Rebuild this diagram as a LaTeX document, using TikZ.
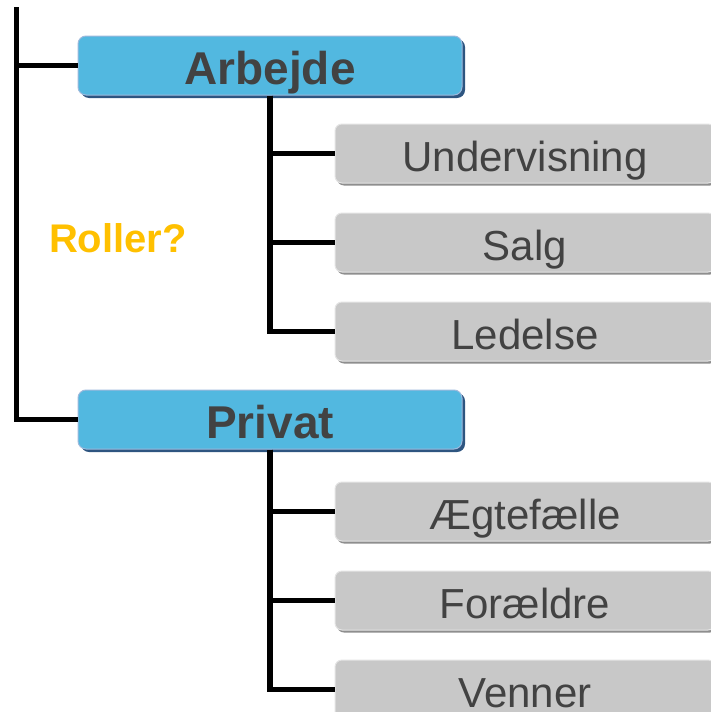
\documentclass[tikz,border=0pt]{standalone}
\usepackage{fontspec}
\setmainfont{Liberation Sans}
\usetikzlibrary{positioning,shadows}

\definecolor{rolleblaa}{HTML}{52B8E0}
\definecolor{rolleblaamoerk}{HTML}{2E5580}
\definecolor{rolleblaalys}{HTML}{9DB9DC}
\definecolor{rollegraa}{HTML}{C8C8C8}
\definecolor{rollegraamoerk}{HTML}{8E8E8E}
\definecolor{rollegraalys}{HTML}{E4E4E4}
\definecolor{rolletekst}{HTML}{424242}
\definecolor{rolleguld}{HTML}{FFC000}

\tikzset{
	hoved/.style = {rectangle, rounded corners=8pt, fill=rolleblaa, draw=rolleblaalys, line width=1pt,
		general shadow={fill=rolleblaamoerk, shadow xshift=3pt, shadow yshift=-3pt},
		minimum width=384pt, minimum height=59pt, inner sep=0pt,
		text height=43pt, text depth=5pt,
		text=rolletekst, font=\bfseries\fontsize{46}{50}\selectfont},
	under/.style = {rectangle, rounded corners=7pt, fill=rollegraa, draw=rollegraalys, line width=1pt,
		general shadow={fill=rollegraamoerk, shadow xshift=2pt, shadow yshift=-2.5pt},
		minimum width=380pt, minimum height=59pt, inner sep=0pt,
		text height=40pt, text depth=4pt,
		text=rolletekst, font=\fontsize{42}{48}\selectfont},
	gren/.style = {draw=black, line width=5.5pt},
}

\begin{document}
\begin{tikzpicture}[x=1pt, y=-1pt]
	\useasboundingbox (0,0) rectangle (710,712);
	
	\node [hoved] (arb) at (270,65.5) {Arbejde};
	\node [under] (und) at (525,153.5) {Undervisning};
	\node [under, below = 29pt of und] (salg) {Salg};
	\node [under, below = 29pt of salg] (led) {Ledelse};
	
	\node [hoved] (priv) at (270,419.5) {Privat};
	\node [under] (aegt) at (525,511.5) {Ægtefælle};
	\node [under, below = 29pt of aegt] (foer) {Forældre};
	\node [under, below = 29pt of foer] (venn) {Venner};
	
	\node [text=rolleguld, font=\bfseries\fontsize{40}{44}\selectfont] (rol) at (118,238) {Roller?};
	
	\coordinate (top) at (16.5,7);
	
	% stammen
	\draw [gren] (top) |- (arb.west);
	\draw [gren] (top) |- (priv.west);
	
	% arbejde
	\draw [gren] (arb.south) |- (und.west);
	\draw [gren] (arb.south) |- (salg.west);
	\draw [gren] (arb.south) |- (led.west);
	
	% privat
	\draw [gren] (priv.south) |- (aegt.west);
	\draw [gren] (priv.south) |- (foer.west);
	\draw [gren] (priv.south) |- (venn.west);
\end{tikzpicture}
\end{document}
